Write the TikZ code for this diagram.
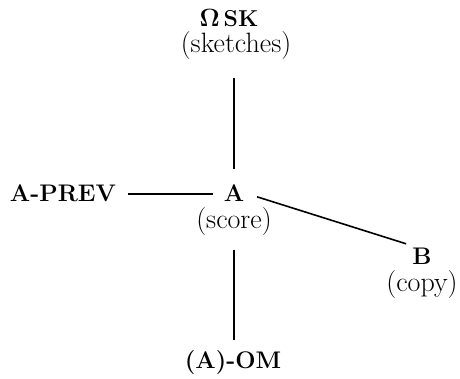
\documentclass[tikz,border=0pt]{standalone}
\begin{document}
\begin{tikzpicture}[x=1pt,y=1pt,
  bl/.style={inner sep=0pt,anchor=base,font=\fontsize{24}{28}\selectfont\bfseries},
  pl/.style={inner sep=0pt,anchor=base,font=\fontsize{28}{32}\selectfont},
  conn/.style={line width=1.6pt}]
\useasboundingbox (0,0) rectangle (460,379);
\node[bl,font=\fontsize{23}{27}\selectfont\bfseries] (osk) at (229,352) {$\mathbf{\Omega}$\,SK};
\node[pl] (sk) at (236,326) {(sketches)};
\node[bl] (aprev) at (63,177) {A-PREV};
\node[bl] (a) at (234,177) {A};
\node[pl] (score) at (234,150) {(score)};
\node[bl] (b) at (422,114) {B};
\node[pl] (copy) at (422,87) {(copy)};
\node[bl] (om) at (233,10) {(A)-OM};
\draw[conn,shorten <=18pt,shorten >=15.5pt] (sk.south -| a) -- (a.north);
\draw[conn,shorten <=11.7pt,shorten >=10.6pt] (aprev.east) -- (aprev.east -| a.west);
\draw[conn] ([xshift=12.6pt,yshift=-3.2pt]a.east) -- ([xshift=-6pt,yshift=4.5pt]b.north west);
\draw[conn,shorten <=14pt,shorten >=11pt] (score.south) -- (om.north -| score);
\end{tikzpicture}
\end{document}
